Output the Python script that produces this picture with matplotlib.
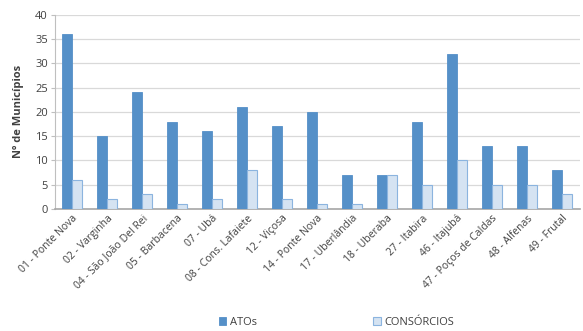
import numpy as np
import matplotlib
matplotlib.use('Agg')
import matplotlib.pyplot as plt

plt.rcParams['font.family'] = ['Open Sans', 'DejaVu Sans']

categories = ['01 - Ponte Nova', '02 - Varginha', '04 - São João Del Rei', '05 - Barbacena',
              '07 - Ubá', '08 - Cons. Lafaiete', '12 - Viçosa', '14 - Ponte Nova',
              '17 - Uberlândia', '18 - Uberaba', '27 - Itabira', '46 - Itajubá',
              '47 - Poços de Caldas', '48 - Alfenas', '49 - Frutal']
atos = [36, 15, 24, 18, 16, 21, 17, 20, 7, 7, 18, 32, 13, 13, 8]
consorcios = [6, 2, 3, 1, 2, 8, 2, 1, 1, 7, 5, 10, 5, 5, 3]

fig = plt.figure(figsize=(5.83, 3.31), dpi=100)
ax = fig.add_axes([0.094, 0.369, 0.9, 0.586])

x = np.arange(len(categories))
w = 0.29
ax.bar(x - w / 2, atos, w, color='#5590C8', edgecolor='#5590C8', linewidth=0.6, label='ATOs', zorder=3)
ax.bar(x + w / 2, consorcios, w, color='#D5E3F2', edgecolor='#8BB4DF', linewidth=0.8,
       label='CONSÓRCIOS', zorder=3)

ax.set_xlim(-0.5, len(categories) - 0.5)
ax.set_ylim(0, 40)
ax.set_yticks(range(0, 41, 5))
ax.yaxis.grid(True, color='#D9D9D9', linewidth=0.9, zorder=0)
ax.set_axisbelow(True)

for s in ['top', 'right']:
    ax.spines[s].set_visible(False)
ax.spines['left'].set_color('#BFBFBF')
ax.spines['bottom'].set_color('#A6A6A6')
ax.spines['bottom'].set_linewidth(1.2)

ax.tick_params(axis='y', length=3, color='#BFBFBF', labelsize=8, labelcolor='#404040', pad=2)
ax.tick_params(axis='x', length=0, labelsize=7.5, labelcolor='#404040', pad=3)
ax.set_xticks(x)
ax.set_xticklabels(categories, rotation=45, ha='right', rotation_mode='anchor')

ax.set_ylabel('Nº de Municípios', fontsize=8, fontweight='bold', color='#404040', labelpad=8)

fig.legend(loc='lower center', bbox_to_anchor=(0.577, -0.02), ncol=2, frameon=False,
           fontsize=8, handlelength=0.7, handleheight=0.7, columnspacing=10.5,
           handletextpad=0.3, labelcolor='#404040')

fig.savefig('out.png', dpi=100)
